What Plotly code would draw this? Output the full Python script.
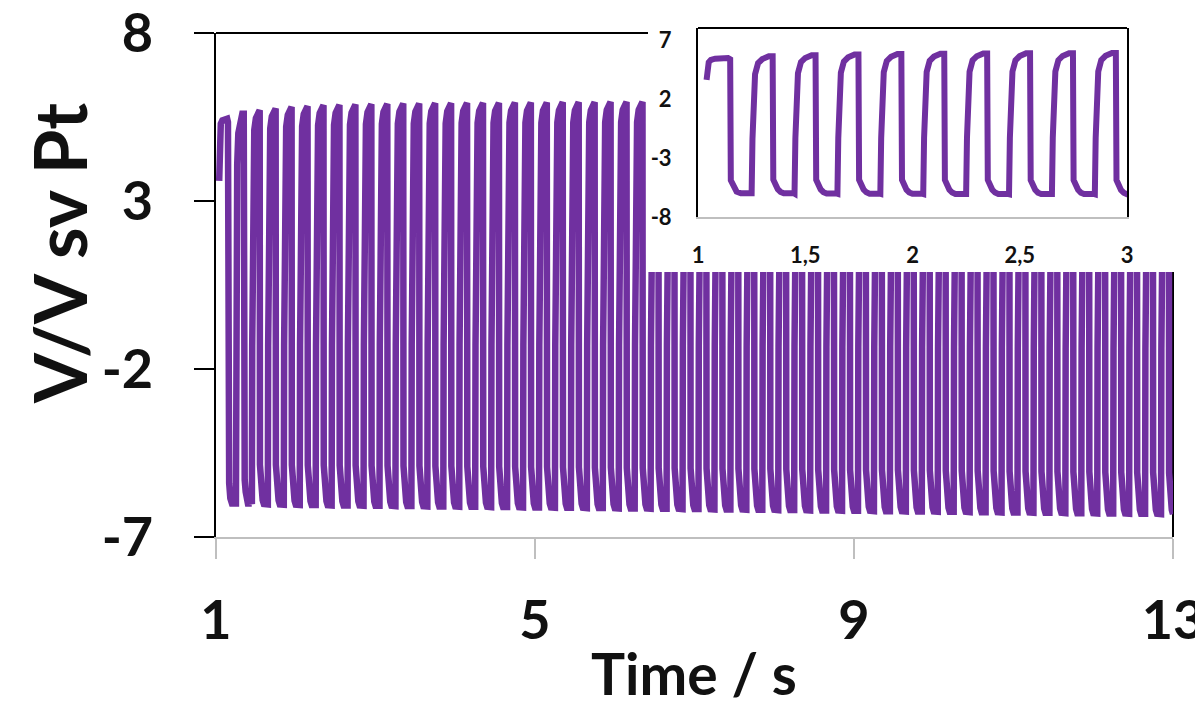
import numpy as np
import plotly.graph_objects as go

# ---------------- data ----------------
# leading partial cycle (time s, potential V)
lead_t = [1.04, 1.045, 1.05, 1.06, 1.08, 1.14, 1.15, 1.153, 1.165, 1.18, 1.20, 1.25]
lead_v = [3.6, 4.6, 5.1, 5.30, 5.40, 5.45, 5.35, -4.9, -5.4, -5.85, -6.0, -6.0]

first_rise = 1.25   # s
period = 0.2        # s
t_end = 13.0

# plateau level of each full cycle (V)
peaks = [5.60, 5.70, 5.75, 5.80, 5.82, 5.85, 5.86, 5.87, 5.88, 5.89,
         5.90, 5.90, 5.91, 5.91, 5.92, 5.92, 5.92, 5.93, 5.93, 5.93,
         5.94, 5.94, 5.94, 5.95, 5.95, 5.95, 5.95, 5.95, 5.96, 5.96,
         5.96, 5.96, 5.96, 5.97, 5.97, 5.97, 5.97, 5.97, 5.97, 5.98,
         5.98, 5.98, 5.98, 5.98, 5.98, 5.98, 5.99, 5.99, 5.99, 5.99,
         5.99, 5.99, 5.99, 6.00, 6.00, 6.00, 6.00, 6.00, 6.00]
# trough level of each full cycle (V)
troughs = [-6.00, -6.02, -6.03, -6.04, -6.05, -6.05, -6.06, -6.06, -6.07, -6.07,
           -6.08, -6.08, -6.09, -6.09, -6.10, -6.10, -6.11, -6.11, -6.12, -6.12,
           -6.13, -6.13, -6.14, -6.14, -6.15, -6.15, -6.16, -6.16, -6.17, -6.17,
           -6.18, -6.18, -6.19, -6.19, -6.20, -6.20, -6.21, -6.21, -6.22, -6.22,
           -6.23, -6.23, -6.24, -6.24, -6.25, -6.25, -6.26, -6.26, -6.27, -6.27,
           -6.28, -6.28, -6.29, -6.29, -6.30, -6.30, -6.31, -6.31, -6.32]
# waveform shape within one cycle (offset from rise, fraction trough->peak)
shape_dt = [0.000, 0.004, 0.009, 0.016, 0.030, 0.050, 0.080, 0.098,
            0.101, 0.110, 0.122, 0.135, 0.150, 0.198]
shape_frac = [0.00, 0.40, 0.75, 0.87, 0.95, 0.98, 1.00, 1.00,
              0.10, 0.06, 0.03, 0.01, 0.00, 0.00]

main_xticks = [1, 5, 9, 13]
main_xtext = ["1", "5", "9", "13"]
main_yticks = [-7, -2, 3, 8]
main_ytext = ["-7", "-2", "3", "8"]
inset_xticks = [1, 1.5, 2, 2.5, 3]
inset_xtext = ["1", "1,5", "2", "2,5", "3"]
inset_yticks = [-8, -3, 2, 7]
inset_ytext = ["-8", "-3", "2", "7"]

# ---------------- build the trace ----------------
t_all = list(lead_t)
v_all = list(lead_v)
for k, (pk, tr) in enumerate(zip(peaks, troughs)):
    t0 = first_rise + k * period
    for dt, fr in zip(shape_dt, shape_frac):
        t = t0 + dt
        if t <= t_end + 1e-9:
            t_all.append(round(t, 4))
            v_all.append(tr + fr * (pk - tr))

PURPLE = "#7030A0"
FONT = "Lato"

# ---------------- layout geometry ----------------
# page body adds an 8px offset; positions below are screen pixels
OFF = 8
W, H = 1203, 701
PLOT_L, PLOT_R, PLOT_T, PLOT_B = 216, 1173, 20, 537
ML = PLOT_L - OFF
MR = W - (PLOT_R - OFF)
MT = PLOT_T - OFF
MB = H - (PLOT_B - OFF)
PW = PLOT_R - PLOT_L
PH = PLOT_B - PLOT_T
def px_x(p):  # screen pixel -> paper x
    return (p - PLOT_L) / PW
def px_y(p):  # screen pixel -> paper y
    return (PLOT_B - p) / PH

main_top = px_y(33)
cover_x0, cover_y0 = px_x(648), px_y(272)
ins_x0, ins_x1 = px_x(698), px_x(1127)
ins_y0, ins_y1 = px_y(217), px_y(28)

fig = go.Figure()
fig.add_trace(go.Scatter(x=t_all, y=v_all, mode="lines",
                         line=dict(color=PURPLE, width=6.5), xaxis="x", yaxis="y",
                         showlegend=False, hoverinfo="skip"))
# empty trace so the white cover panel exists
fig.add_trace(go.Scatter(x=[], y=[], xaxis="x2", yaxis="y2", showlegend=False))
fig.add_trace(go.Scatter(x=t_all, y=v_all, mode="lines",
                         line=dict(color=PURPLE, width=6), xaxis="x3", yaxis="y3",
                         showlegend=False, hoverinfo="skip"))

big_tick = dict(family=FONT, size=54, color="#111111", weight="bold")
small_tick = dict(family=FONT, size=22, color="#111111", weight="bold")

fig.update_layout(
    width=W, height=H,
    margin=dict(l=ML, r=MR, t=MT, b=MB, autoexpand=False),
    paper_bgcolor="white", plot_bgcolor="white",
    showlegend=False,
    xaxis=dict(domain=[0, 1], range=[1, 13], tickvals=main_xticks, ticktext=main_xtext,
               ticks="outside", ticklen=20, tickwidth=2, tickcolor="#bfbfbf",
               showline=True, linecolor="#bfbfbf", linewidth=2, automargin=False,
               showgrid=False, zeroline=False, tickfont=big_tick,
               ticklabelstandoff=15, ticklabeloverflow="allow", anchor="y"),
    yaxis=dict(domain=[0, main_top], range=[-7, 8], tickvals=main_yticks, ticktext=main_ytext,
               ticks="outside", ticklen=20, tickwidth=2, tickcolor="black",
               showline=True, linecolor="black", linewidth=2, automargin=False,
               showgrid=False, zeroline=False, tickfont=big_tick,
               ticklabelstandoff=30, ticklabeloverflow="allow", anchor="x"),
    xaxis2=dict(domain=[cover_x0, 1], visible=False, anchor="y2", range=[0, 1], automargin=False),
    yaxis2=dict(domain=[cover_y0, 1], visible=False, anchor="x2", range=[0, 1], automargin=False),
    xaxis3=dict(domain=[ins_x0, ins_x1], range=[1, 3], tickvals=inset_xticks, ticktext=inset_xtext,
                ticks="", showline=True, linecolor="#bfbfbf", linewidth=2, automargin=False,
                showgrid=False, zeroline=False, tickfont=small_tick,
                ticklabelstandoff=18, ticklabeloverflow="allow", anchor="y3"),
    yaxis3=dict(domain=[ins_y0, ins_y1], range=[-8, 8], tickvals=inset_yticks, ticktext=inset_ytext,
                ticks="", showline=True, linecolor="black", linewidth=2, mirror=True, automargin=False,
                showgrid=False, zeroline=False, tickfont=small_tick,
                ticklabelstandoff=20, ticklabeloverflow="allow", anchor="x3"),
    shapes=[
        dict(type="line", xref="paper", yref="paper", x0=0, x1=cover_x0, y0=main_top, y1=main_top,
             line=dict(color="black", width=2), layer="below"),
        dict(type="line", xref="paper", yref="paper", x0=1, x1=1, y0=0, y1=cover_y0,
             line=dict(color="black", width=2), layer="below"),
        dict(type="line", xref="x3 domain", yref="y3 domain", x0=0, x1=1, y0=1, y1=1,
             line=dict(color="black", width=2), layer="above"),
    ],
    annotations=[
        dict(text="Time / s", xref="paper", yref="paper", x=px_x(694), y=px_y(673),
             xanchor="center", yanchor="middle", showarrow=False,
             font=dict(family=FONT, size=57, color="#111111", weight="bold")),
        dict(text="V/V sv Pt", xref="paper", yref="paper", x=px_x(59), y=px_y(254),
             xanchor="center", yanchor="middle", showarrow=False, textangle=-90,
             font=dict(family=FONT, size=72, color="#111111", weight="bold")),
    ],
)

fig.write_html("out.html")
